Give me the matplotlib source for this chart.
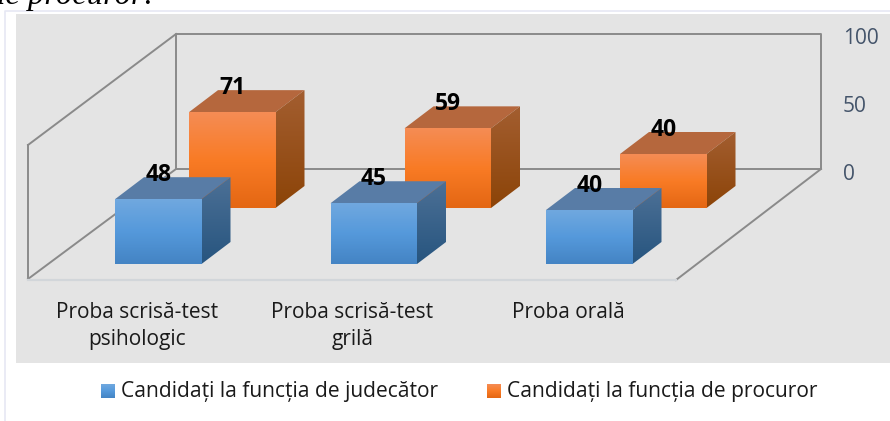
import numpy as np
import matplotlib
matplotlib.use("Agg")
import matplotlib.pyplot as plt
from matplotlib.colors import LinearSegmentedColormap
from matplotlib.patches import Polygon, Rectangle

plt.rcParams['font.family'] = ['Open Sans', 'DejaVu Sans']

categories = ["Proba scrisă-test\npsihologic", "Proba scrisă-test\ngrilă", "Proba orală"]
judecator = [48, 45, 40]
procuror = [71, 59, 40]
y_ticks = [0, 50, 100]
legend_labels = ["Candidați la funcția de judecător", "Candidați la funcția de procuror"]

# dimensiuni in pixeli ale proiectiei oblice
PX_PER_UNIT = 1.35
CAT_STEP = 215.5
BAR_W = 86.5
DEPTH_X, DEPTH_Y = 29, 22

BLUE = dict(front=["#70A8DF", "#5599DB", "#4484C4"], side=["#4C7096", "#27557F"], top="#587CA6")
ORANGE = dict(front=["#F58C54", "#F97B25", "#E46713"], side=["#A35E30", "#8C4408"], top="#B5673D")

fig = plt.figure(figsize=(8.9, 4.21), dpi=100)
ax = fig.add_axes([0, 0, 1, 1])
ax.set_xlim(0, 890)
ax.set_ylim(421, 0)
ax.axis("off")


def grad_face(pts, colors, z):
    pts = np.array(pts)
    cmap = LinearSegmentedColormap.from_list("g", colors)
    grad = np.linspace(0, 1, 64).reshape(-1, 1)
    im = ax.imshow(grad, cmap=cmap, aspect="auto", zorder=z, interpolation="bilinear",
                   extent=[pts[:, 0].min(), pts[:, 0].max(), pts[:, 1].max(), pts[:, 1].min()])
    poly = Polygon(pts, closed=True, transform=ax.transData, fc="none", ec="none")
    ax.add_patch(poly)
    im.set_clip_path(poly)


def bar3d(x0, base, value, style, z):
    h = value * PX_PER_UNIT
    x1 = x0 + BAR_W
    top = base - h
    dx, dy = DEPTH_X, DEPTH_Y
    ax.add_patch(Polygon([(x0, top), (x1, top), (x1 + dx, top - dy), (x0 + dx, top - dy)],
                         fc=style["top"], ec="none", zorder=z))
    grad_face([(x1, top), (x1 + dx, top - dy), (x1 + dx, base - dy), (x1, base)], style["side"], z)
    grad_face([(x0, top), (x1, top), (x1, base), (x0, base)], style["front"], z + 0.1)
    ax.text(x0 + BAR_W / 2, top - 24, str(value), ha="center", va="center", fontsize=16.5,
            fontweight="bold", color="black", zorder=10)


# fundal
ax.add_patch(Rectangle((16, 14), 874, 349, fc="#E4E4E4", ec="none", zorder=0))
ax.plot([5, 5, 890], [421, 11, 11], color="#E6E8F4", lw=1.2, zorder=0.5)
ax.text(-11, 4, "de procuror:", family="Liberation Serif", style="italic", fontsize=23.5,
        va="baseline", ha="left", color="black", clip_on=True)

# peretii graficului
wall_left, wall_right = 176, 821
wall_base = 169
wall_top = wall_base - max(y_ticks) * PX_PER_UNIT
line = dict(color="#8A8A8A", lw=1.4, zorder=1, solid_capstyle="projecting")
ax.plot([wall_left, wall_left, wall_right, wall_right, wall_left],
        [wall_base, wall_top, wall_top, wall_base, wall_base], **line)
ax.plot([28, wall_left], [279, wall_base], **line)
ax.plot([28, wall_left], [145, wall_top], **line)
ax.plot([28, 28], [145, 279], **line)
ax.plot([676, wall_right], [280, wall_base], **line)
ax.plot([28, 676], [280, 280], color="#D2D6DA", lw=1.6, zorder=1)

for i in range(len(categories)):
    bar3d(189 + i * CAT_STEP, 208, procuror[i], ORANGE, 3)
for i in range(len(categories)):
    bar3d(115 + i * CAT_STEP, 264, judecator[i], BLUE, 5)

for i, cat in enumerate(categories):
    ax.text(137 + i * CAT_STEP, 302, cat, ha="center", va="top", fontsize=15,
            linespacing=1.35, color="#1A1A1A")

for t in y_ticks:
    ax.text(843, wall_base + 5 - t * PX_PER_UNIT, str(t), ha="left", va="center", fontsize=15,
            color="#44546A")

# legenda
leg_pos = [(101, 121), (487, 507)]
for (sq, tx), label, style in zip(leg_pos, legend_labels, [BLUE, ORANGE]):
    grad_face([(sq, 384), (sq + 14, 384), (sq + 14, 398), (sq, 398)], style["front"], 3)
    ax.text(tx, 392, label, ha="left", va="center", fontsize=15.1, color="#1A1A1A")

ax.set_xlim(0, 890)
ax.set_ylim(421, 0)
fig.savefig("out.png", dpi=100)
